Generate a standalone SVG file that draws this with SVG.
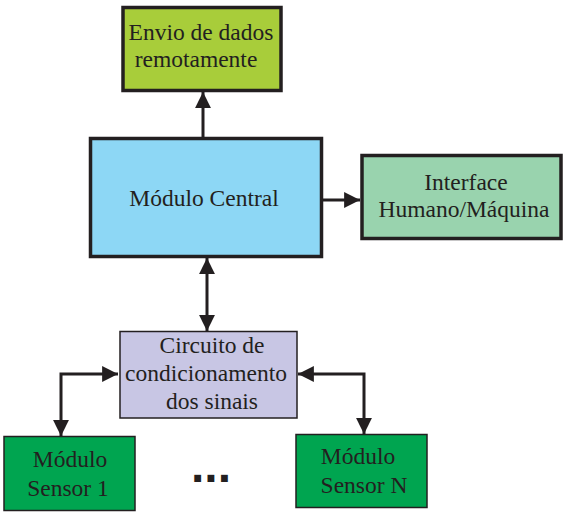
<svg xmlns="http://www.w3.org/2000/svg" width="566" height="512" viewBox="0 0 566 512">
<defs>
<marker id="ah" viewBox="0 0 10 10" refX="10" refY="5" markerWidth="5.3" markerHeight="5.3" markerUnits="strokeWidth" orient="auto-start-reverse">
<path d="M0,0 L10,5 L0,10 z" fill="#231f20"/>
</marker>
<style>
.t{font-family:"Liberation Serif","Times New Roman",serif;font-size:23.5px;fill:#231f20;text-anchor:middle}
.thick{stroke:#231f20;stroke-width:3.5}
.thin{stroke:#231f20;stroke-width:1.5}
.c{fill:none;stroke:#231f20;stroke-width:3}
</style>
</defs>
<rect width="566" height="512" fill="#ffffff"/>
<g id="connectors">
<path class="c" d="M203,137 L203,92" marker-end="url(#ah)"/>
<path class="c" d="M322,200 L360,200" marker-end="url(#ah)"/>
<path class="c" d="M207,258 L207,331" marker-start="url(#ah)" marker-end="url(#ah)"/>
<path class="c" d="M118,374 L61,374 L61,436" marker-start="url(#ah)" marker-end="url(#ah)"/>
<path class="c" d="M298,374 L364,374 L364,434" marker-start="url(#ah)" marker-end="url(#ah)"/>
</g>
<g id="envio">
<rect class="thick" x="123" y="7.5" width="158" height="83" fill="#a8cd3a"/>
<text class="t" x="201" y="40">Envio de dados</text>
<text class="t" x="196" y="67">remotamente</text>
</g>
<g id="central">
<rect class="thick" x="90.5" y="138.5" width="231" height="118" fill="#8dd7f5"/>
<text class="t" x="204" y="206" font-size="24">Módulo Central</text>
</g>
<g id="interface">
<rect class="thick" x="362" y="155.5" width="199" height="83" fill="#99d3ae"/>
<text class="t" x="466" y="190">Interface</text>
<text class="t" x="464" y="217">Humano/Máquina</text>
</g>
<g id="circuito">
<rect class="thin" x="120" y="331.5" width="177" height="86.5" fill="#c8c6e4"/>
<text class="t" x="212" y="353">Circuito de</text>
<text class="t" x="206" y="381">condicionamento</text>
<text class="t" x="212" y="409">dos sinais</text>
</g>
<g id="sensor1">
<rect class="thin" x="4" y="436.5" width="131" height="74" fill="#00a550"/>
<text class="t" x="70" y="467">Módulo</text>
<text class="t" x="68" y="496">Sensor 1</text>
</g>
<g id="sensorN">
<rect class="thin" x="296" y="434.5" width="131" height="73" fill="#00a550"/>
<text class="t" x="358" y="464">Módulo</text>
<text class="t" x="364" y="493">Sensor N</text>
</g>
<g id="dots">
<text x="211" y="482" font-family="Liberation Sans, Arial, sans-serif" font-weight="bold" font-size="48" fill="#231f20" text-anchor="middle">...</text>
</g>
</svg>
